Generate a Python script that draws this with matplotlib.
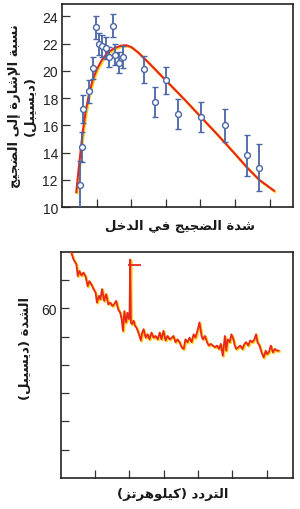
import matplotlib
matplotlib.use('Agg')
import matplotlib.pyplot as plt
import matplotlib.transforms as mtrans

# --- Arabic shaping by hand (matplotlib draws text left to right, no joining) ---
# letter: (isolated, final, initial, medial); None = does not join forward
FORMS = {
    'ا': ('\uFE8D', '\uFE8E', None, None),
    'إ': ('\uFE87', '\uFE88', None, None),
    'ب': ('\uFE8F', '\uFE90', '\uFE91', '\uFE92'),
    'ة': ('\uFE93', '\uFE94', None, None),
    'ت': ('\uFE95', '\uFE96', '\uFE97', '\uFE98'),
    'ج': ('\uFE9D', '\uFE9E', '\uFE9F', '\uFEA0'),
    'خ': ('\uFEA5', '\uFEA6', '\uFEA7', '\uFEA8'),
    'د': ('\uFEA9', '\uFEAA', None, None),
    'ر': ('\uFEAD', '\uFEAE', None, None),
    'ز': ('\uFEAF', '\uFEB0', None, None),
    'س': ('\uFEB1', '\uFEB2', '\uFEB3', '\uFEB4'),
    'ش': ('\uFEB5', '\uFEB6', '\uFEB7', '\uFEB8'),
    'ض': ('\uFEBD', '\uFEBE', '\uFEBF', '\uFEC0'),
    'ف': ('\uFED1', '\uFED2', '\uFED3', '\uFED4'),
    'ك': ('\uFED9', '\uFEDA', '\uFEDB', '\uFEDC'),
    'ل': ('\uFEDD', '\uFEDE', '\uFEDF', '\uFEE0'),
    'ن': ('\uFEE5', '\uFEE6', '\uFEE7', '\uFEE8'),
    'ه': ('\uFEE9', '\uFEEA', '\uFEEB', '\uFEEC'),
    'و': ('\uFEED', '\uFEEE', None, None),
    'ى': ('\uFEEF', '\uFEF0', None, None),
    'ي': ('\uFEF1', '\uFEF2', '\uFEF3', '\uFEF4'),
}
LAM_ALEF = {'ا': ('\uFEFB', '\uFEFC'), 'إ': ('\uFEF9', '\uFEFA')}


def joins_fwd(c):
    return c in FORMS and FORMS[c][2] is not None


def shape_line(text):
    res = []
    i = 0
    n = len(text)
    while i < n:
        c = text[i]
        prev = text[i - 1] if i > 0 else ''
        nxt = text[i + 1] if i + 1 < n else ''
        if c == 'ل' and nxt in LAM_ALEF:
            lig = LAM_ALEF[nxt]
            res.append(lig[1] if joins_fwd(prev) else lig[0])
            i += 2
            continue
        if c in FORMS:
            iso, fin, ini, med = FORMS[c]
            p = joins_fwd(prev)
            q = ini is not None and nxt in FORMS
            if p and q:
                res.append(med)
            elif p:
                res.append(fin)
            elif q:
                res.append(ini)
            else:
                res.append(iso)
        else:
            res.append(c)
        i += 1
    s = ''.join(reversed(res))
    return s.translate(str.maketrans('()', ')('))


def ar(text):
    return '\n'.join(shape_line(l) for l in text.split('\n'))


# --- data: top panel (signal-to-noise vs input noise) ---
snr_x = [0.52, 0.58, 0.59, 0.79, 0.90, 0.98, 1.08, 1.16, 1.27, 1.37, 1.47,
         1.53, 1.65, 1.75, 2.37, 2.70, 3.01, 3.36, 4.01, 4.71, 5.36, 5.70]
snr_y = [11.6, 14.4, 17.2, 18.5, 20.2, 23.2, 22.0, 21.8, 21.7, 21.0, 23.3,
         21.2, 20.6, 21.0, 20.1, 17.7, 19.3, 16.8, 16.6, 16.0, 13.8, 12.9]
snr_err = [1.8, 1.1, 1.05, 0.85, 0.8, 0.85, 0.8, 0.8, 0.8, 0.75, 0.85,
           0.75, 0.75, 0.8, 1.0, 1.1, 1.0, 1.1, 1.1, 1.2, 1.5, 1.7]

fit_x = [0.41, 0.47, 0.53, 0.60, 0.68, 0.77, 0.88, 1.00, 1.15, 1.30, 1.50,
         1.70, 1.85, 2.00, 2.20, 2.50, 3.00, 3.50, 4.00, 4.50, 5.00, 5.35,
         5.70, 6.13]
fit_y = [11.1, 12.6, 14.0, 15.6, 17.0, 18.2, 19.3, 20.1, 20.8, 21.3, 21.65,
         21.85, 21.88, 21.75, 21.35, 20.6, 19.3, 18.0, 16.65, 15.3, 13.9,
         12.9, 12.0, 11.2]

# --- data: bottom panel (intensity vs frequency) ---
spec_x = [0.30, 0.37, 0.45, 0.49, 0.54, 0.60, 0.66, 0.72, 0.78, 0.83, 0.89,
          0.95, 1.01, 1.05, 1.11, 1.15, 1.20, 1.26, 1.32, 1.38, 1.44, 1.50,
          1.55, 1.61, 1.67, 1.73, 1.77, 1.81, 1.85, 1.90, 1.94, 1.98, 2.00,
          2.02, 2.04, 2.07, 2.12, 2.16, 2.20, 2.24, 2.29, 2.33, 2.37, 2.41,
          2.47, 2.53, 2.58, 2.64, 2.70, 2.76, 2.82, 2.88, 2.93, 2.99, 3.05,
          3.11, 3.17, 3.23, 3.28, 3.34, 3.40, 3.46, 3.52, 3.58, 3.63, 3.69,
          3.75, 3.81, 3.87, 3.92, 3.98, 4.04, 4.10, 4.14, 4.20, 4.26, 4.31,
          4.37, 4.43, 4.49, 4.55, 4.61, 4.66, 4.72, 4.78, 4.82, 4.86, 4.92,
          4.97, 5.03, 5.07, 5.11, 5.17, 5.23, 5.29, 5.35, 5.40, 5.46, 5.52,
          5.58, 5.64, 5.69, 5.73, 5.79, 5.85, 5.91, 5.97, 6.01, 6.06, 6.12,
          6.18, 6.24, 6.30, 6.35]
spec_y = [69.9, 68.6, 67.8, 65.7, 66.6, 65.8, 66.3, 65.6, 63.9, 64.8, 64.2,
          63.4, 62.8, 61.0, 62.2, 61.6, 63.4, 61.3, 62.5, 60.7, 61.0, 60.4,
          60.7, 61.3, 59.8, 59.2, 58.1, 56.0, 59.5, 57.5, 59.2, 58.1, 58.6,
          68.6, 57.5, 57.2, 57.8, 56.9, 56.6, 56.0, 55.1, 54.3, 55.7, 56.3,
          54.8, 55.4, 54.5, 55.7, 54.8, 55.1, 54.5, 55.7, 54.5, 56.0, 54.3,
          55.1, 54.5, 54.8, 55.1, 54.0, 54.5, 54.0, 53.1, 52.8, 54.5, 54.0,
          54.8, 54.0, 55.4, 54.8, 56.0, 57.5, 55.1, 54.5, 55.1, 54.0, 53.4,
          53.7, 53.4, 53.1, 53.4, 52.8, 53.7, 51.6, 55.1, 52.5, 54.5, 54.0,
          55.4, 54.5, 53.4, 52.8, 53.1, 53.4, 52.8, 53.7, 54.0, 53.4, 54.3,
          54.0, 54.5, 55.4, 54.0, 53.4, 52.2, 51.3, 52.5, 51.9, 52.2, 53.4,
          52.2, 52.8, 52.5, 52.5]
# little cross bar on top of the spike
bar_x = [1.97, 2.33]
bar_y = 67.6

RED = '#e8281e'
YELLOW = '#ffd21e'
BLUE = '#4a66a8'

fig = plt.figure(figsize=(3, 5.1), dpi=100)
fig.patch.set_facecolor('white')


def style(ax):
    for s in ax.spines.values():
        s.set_linewidth(1.2)
        s.set_color('#222222')
    ax.tick_params(direction='in', length=6, width=0.9, color='#333333',
                   labelsize=10, labelcolor='#222222', pad=3)
    for lab in ax.get_yticklabels():
        lab.set_family('Liberation Sans')


def glow_line(ax, x, y, lw):
    shift = mtrans.offset_copy(ax.transData, fig=fig, x=0.7, y=-0.7, units='points')
    ax.plot(x, y, color=YELLOW, lw=lw + 0.4, transform=shift, zorder=2,
            solid_joinstyle='round')
    ax.plot(x, y, color=RED, lw=lw, zorder=3, solid_joinstyle='round')


# top panel
ax1 = fig.add_axes([0.207, 0.592, 0.770, 0.398])
glow_line(ax1, fit_x, fit_y, 1.5)
ax1.errorbar(snr_x, snr_y, yerr=snr_err, fmt='o', ms=4.2, mfc='white',
             mec=BLUE, mew=1.0, ecolor=BLUE, elinewidth=1.3, capsize=2.5,
             capthick=1.1, zorder=4)
ax1.set_xlim(0, 6.68)
ax1.set_ylim(10, 24.9)
ax1.set_yticks([10, 12, 14, 16, 18, 20, 22, 24])
ax1.set_xticks([1, 2, 3, 4, 5, 6])
ax1.set_xticklabels([])
style(ax1)

# bottom panel
ax2 = fig.add_axes([0.203, 0.061, 0.774, 0.4435])
glow_line(ax2, spec_x, spec_y, 1.3)
ax2.hlines(bar_y, bar_x[0], bar_x[1], color=RED, lw=1.3, zorder=3)
ax2.set_xlim(0, 6.77)
ax2.set_ylim(30, 70)
ax2.set_yticks([35, 40, 45, 50, 55, 60, 65])
ax2.set_yticklabels(['', '', '', '', '', '60', ''])
ax2.set_xticks([1, 2, 3, 4, 5, 6])
ax2.set_xticklabels([])
style(ax2)

afont = dict(family='DejaVu Sans', fontweight='bold', color='#1a1a1a')
fig.text(0.075, 1 - 106 / 510, ar('نسبة الإشارة إلى الضجيج\n(ديسيبل)'),
         rotation=90, ha='center', va='center', fontsize=9.5,
         linespacing=1.25, **afont)
fig.text(180 / 300, 1 - 227 / 510, ar('شدة الضجيج في الدخل'),
         ha='center', va='center', fontsize=9.5, **afont)
fig.text(25 / 300, 1 - 348 / 510, ar('الشدة (ديسيبل)'),
         rotation=90, ha='center', va='center', fontsize=9.5, **afont)
fig.text(173 / 300, 1 - 495 / 510, ar('التردد (كيلوهرتز)'),
         ha='center', va='center', fontsize=9.5, **afont)

fig.savefig('out.png', dpi=100)
